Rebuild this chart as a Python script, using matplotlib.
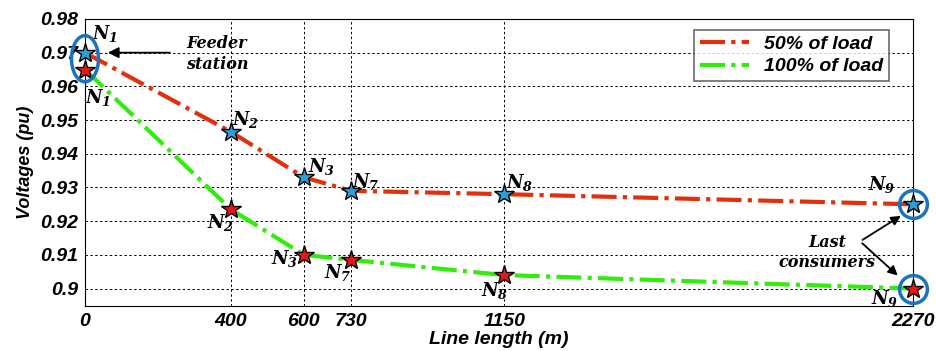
import matplotlib
matplotlib.use("Agg")
import matplotlib.pyplot as plt
from matplotlib.patches import Ellipse

# data
length = [0, 400, 600, 730, 1150, 2270]
v_50 = [0.970, 0.9465, 0.933, 0.929, 0.928, 0.925]
v_100 = [0.965, 0.9235, 0.910, 0.9085, 0.904, 0.900]
node_names = ["1", "2", "3", "7", "8", "9"]
yticks = [0.9, 0.91, 0.92, 0.93, 0.94, 0.95, 0.96, 0.97, 0.98]

plt.rcParams["font.family"] = ["Liberation Sans", "DejaVu Sans"]
plt.rcParams["mathtext.fontset"] = "custom"
plt.rcParams["mathtext.it"] = "DejaVu Serif:italic:bold"
plt.rcParams["mathtext.rm"] = "DejaVu Serif:italic:bold"

fig = plt.figure(figsize=(9.37, 3.51), dpi=100)
ax = fig.add_axes([0.0907, 0.128, 0.8837, 0.818])

red = "#e2300e"
green = "#2eee0a"
dash = (0, (6, 1.5, 1, 1.5))
ax.plot(length, v_50, color=red, lw=3, linestyle=dash, label="50% of load", zorder=3)
ax.plot(length, v_100, color=green, lw=3, linestyle=dash, label="100% of load", zorder=3)
ax.plot(length, v_50, linestyle="none", marker="*", ms=15, mfc="#2ba0d8",
        mec="black", mew=1.0, zorder=5, clip_on=False)
ax.plot(length, v_100, linestyle="none", marker="*", ms=15, mfc="#e8161a",
        mec="black", mew=1.0, zorder=5, clip_on=False)

ax.set_xlim(0, 2270)
ax.set_ylim(0.8948, 0.98)
ax.set_xticks(length)
ax.set_yticks(yticks)
ax.set_yticklabels([("%.2f" % t).rstrip("0") if t == 0.9 else "%.2f" % t for t in yticks])
for lab in ax.get_xticklabels() + ax.get_yticklabels():
    lab.set_fontweight("bold")
    lab.set_fontstyle("italic")
    lab.set_fontsize(14)
ax.tick_params(length=0, pad=5)
ax.grid(True, color="black", linestyle=(0, (2.5, 2.5)), lw=0.7)
ax.set_xlabel("Line length (m)", fontsize=14, fontweight="bold", fontstyle="italic", labelpad=1)
ax.set_ylabel("Voltages (pu)", fontsize=13, fontweight="bold", fontstyle="italic", labelpad=4)

leg = ax.legend(loc="upper right", bbox_to_anchor=(0.983, 0.997), fancybox=False,
                edgecolor="#444444", handlelength=2.5, handletextpad=0.8,
                labelspacing=0.25, borderpad=0.3,
                prop={"weight": "bold", "style": "italic", "size": 14})
leg.get_frame().set_linewidth(1.2)

# node labels: offsets in pixels (dx, dy) from the star
off_50 = [(20, -19), (15, -12), (18, -11), (15, -9), (15, -12), (-31, -20)]
off_100 = [(13, 28), (-10, 13), (-19, 4), (-13, 13), (-10, 15), (-28, 10)]
for x, y, n, o in zip(length, v_50, node_names, off_50):
    ax.annotate(r"$N_%s$" % n, (x, y), xytext=(o[0] * 0.72, -o[1] * 0.72),
                textcoords="offset points", ha="center", va="center",
                fontsize=13, annotation_clip=False, zorder=6)
for x, y, n, o in zip(length, v_100, node_names, off_100):
    ax.annotate(r"$N_%s$" % n, (x, y), xytext=(o[0] * 0.72, -o[1] * 0.72),
                textcoords="offset points", ha="center", va="center",
                fontsize=13, annotation_clip=False, zorder=6)

blue = "#1a72c0"
ax.add_patch(Ellipse((0, 0.9682), width=74, height=0.0137, fill=False,
                     edgecolor=blue, lw=2.5, clip_on=False, zorder=7))
ax.plot([2270, 2270], [v_50[-1], v_100[-1]], linestyle="none", marker="o", ms=20,
        mfc="none", mec=blue, mew=2.5, clip_on=False, zorder=7)

serif = {"family": "DejaVu Serif", "weight": "bold", "style": "italic", "size": 11.5}
ax.annotate("", xy=(55, 0.970), xytext=(240, 0.970),
            arrowprops=dict(arrowstyle="-|>", color="black", lw=1.3, mutation_scale=16))
ax.text(362, 0.9695, "Feeder\nstation", ha="center", va="center", linespacing=1.3, **serif)

ax.text(2034, 0.9107, "Last\nconsumers", ha="center", va="center",
        linespacing=1.2, **serif)
ax.annotate("", xy=(2243, 0.922), xytext=(2125, 0.914),
            arrowprops=dict(arrowstyle="-|>", color="black", lw=1.3, mutation_scale=14))
ax.annotate("", xy=(2234, 0.9033), xytext=(2125, 0.914),
            arrowprops=dict(arrowstyle="-|>", color="black", lw=1.3, mutation_scale=14))

fig.savefig("out.png", dpi=100)
